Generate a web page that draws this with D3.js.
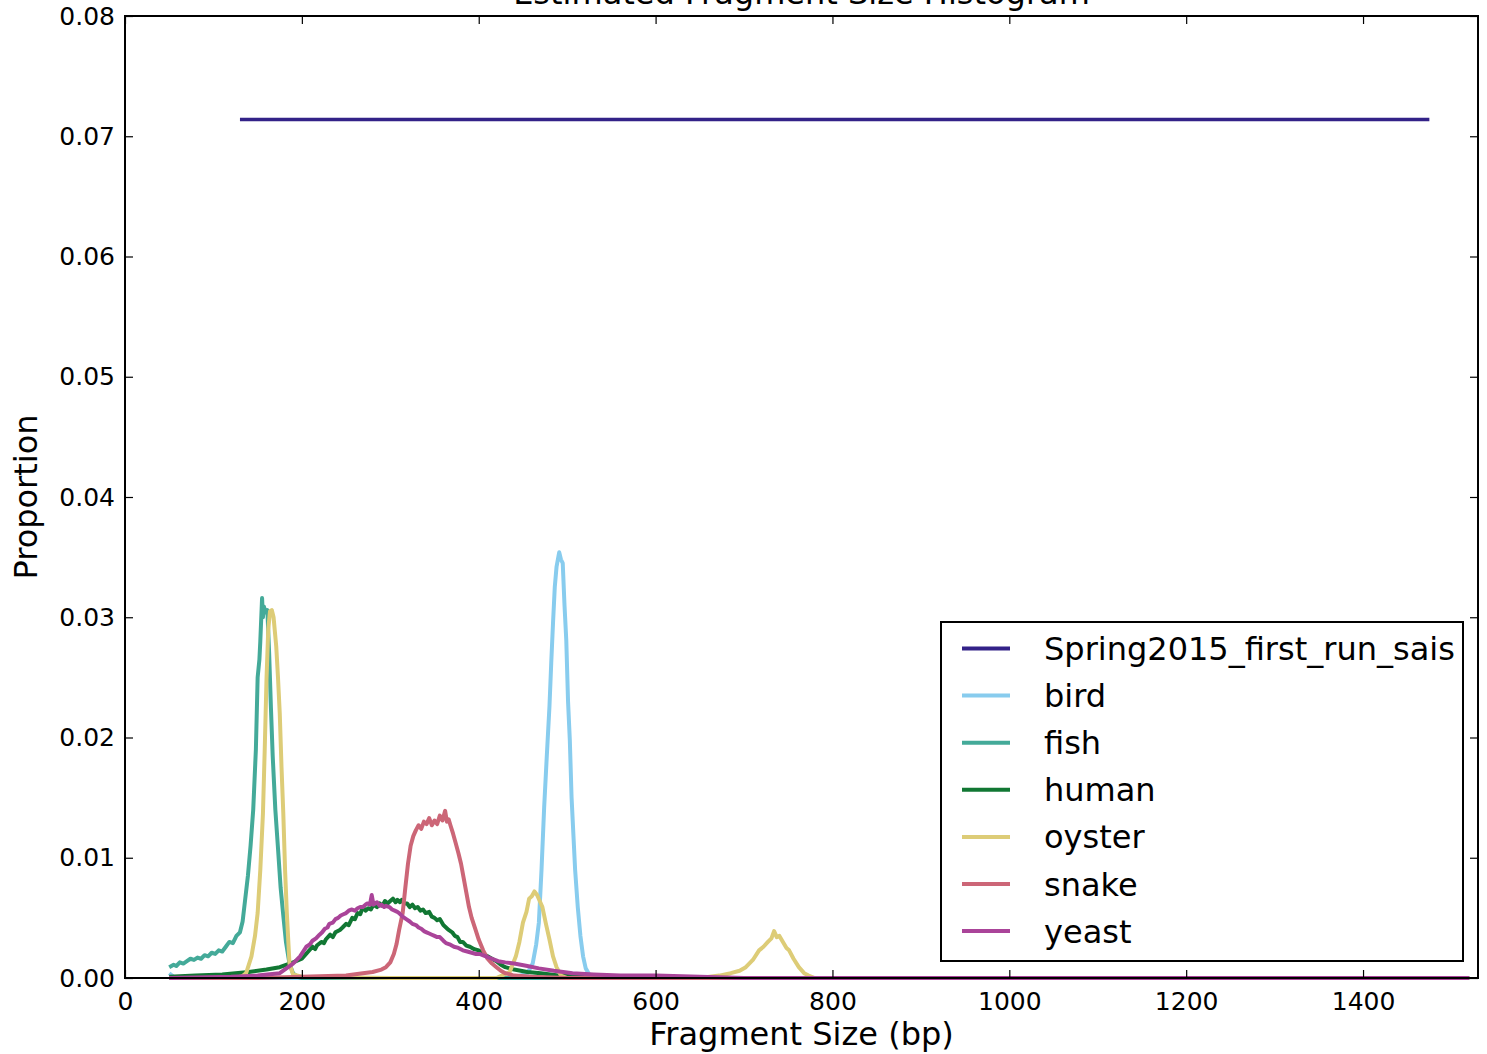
<!DOCTYPE html>
<html>
<head>
<meta charset="utf-8">
<script src="https://cdn.jsdelivr.net/npm/d3@7"></script>
<style>
  body { margin: 0; background: #fff; }
  svg { display: block; font-family: "DejaVu Sans", sans-serif; }
</style>
</head>
<body>
<svg id="chart" width="1487" height="1054"></svg>
<script>
// fragment size (bp) / proportion pairs
const spring2015 = [[130, 0.0714], [1475, 0.0714]];

const bird = [[50,0.0004],[55,0.0001],[60,0],[440,0],[455,0.0004],[461,0.0012],[465,0.0028],[468,0.0046],
  [471,0.0090],[474,0.0142],[477,0.0185],[480,0.0226],[482,0.0262],[484,0.0295],[486,0.0325],[488,0.0342],
  [490,0.0350],[491,0.0354],[493,0.0348],[495,0.0345],[497,0.0310],[499,0.0281],[501,0.0230],[503,0.0198],
  [505,0.0150],[507,0.0120],[509,0.0090],[512,0.0059],[515,0.0035],[518,0.0018],[521,0.0008],[525,0.0003],
  [530,0],[1520,0]];

const fish = [[50,0.0009],[55,0.0011],[58,0.0010],[62,0.0013],[66,0.0012],[70,0.0014],[74,0.0016],[78,0.0015],
  [82,0.0017],[86,0.0016],[90,0.0019],[94,0.0018],[98,0.0021],[102,0.0020],[106,0.0023],[110,0.0022],
  [114,0.0026],[118,0.0030],[122,0.0029],[126,0.0035],[130,0.0038],[133,0.0047],[136,0.0066],[139,0.0085],
  [142,0.0110],[145,0.0140],[148,0.0190],[150,0.0250],[152,0.0265],[153,0.0280],[155,0.0316],[156,0.0300],
  [157,0.0309],[159,0.0304],[161,0.0306],[163,0.0270],[165,0.0225],[167,0.0185],[170,0.0140],[173,0.0108],
  [176,0.0075],[179,0.0052],[182,0.0030],[186,0.0012],[190,0.0004],[195,0.0001],[200,0],[1520,0]];

const human = [[50,0.0001],[80,0.0002],[110,0.0003],[140,0.0005],[160,0.0007],[175,0.0009],[190,0.0013],
  [200,0.0016],[206,0.0021],[212,0.0026],[215,0.0024],[217,0.0027],[222,0.0030],[225,0.0029],[227,0.0032],
  [232,0.0036],[235,0.0034],[238,0.0038],[243,0.0040],[246,0.0042],[250,0.0045],[253,0.0044],[257,0.0050],
  [260,0.0049],[263,0.0054],[266,0.0053],[269,0.0059],[272,0.0056],[275,0.0058],[278,0.0057],[281,0.0061],
  [285,0.0059],[288,0.0062],[291,0.0060],[294,0.0064],[297,0.0062],[300,0.0064],[303,0.0066],[306,0.0063],
  [308,0.0065],[311,0.0063],[313,0.0065],[316,0.0062],[319,0.0062],[322,0.0059],[325,0.0061],[328,0.0058],
  [331,0.0059],[334,0.0056],[337,0.0057],[340,0.0054],[344,0.0055],[347,0.0051],[350,0.0050],[353,0.0048],
  [356,0.0049],[360,0.0044],[363,0.0042],[366,0.0040],[370,0.0038],[373,0.0035],[376,0.0034],[379,0.0030],
  [382,0.0030],[386,0.0027],[390,0.0026],[395,0.0024],[400,0.0023],[405,0.0020],[410,0.0018],[415,0.0016],
  [420,0.0014],[425,0.0011],[430,0.0009],[440,0.0007],[455,0.0005],[470,0.0004],[490,0.0002],[520,0.0001],
  [560,0],[1520,0]];

const oyster = [[50,0],[130,0],[137,0.0004],[143,0.0018],[147,0.0035],[150,0.0054],[153,0.0090],[156,0.0137],
  [158,0.0190],[160,0.0248],[162,0.0290],[164,0.0305],[166,0.0306],[168,0.0300],[171,0.0276],[173,0.0250],
  [175,0.0220],[177,0.0175],[179,0.0137],[181,0.0090],[183,0.0054],[186,0.0012],[190,0.0003],[200,0.0001],
  [300,0],[420,0],[435,0.0005],[442,0.0018],[446,0.0030],[450,0.0046],[454,0.0055],[457,0.0066],[460,0.0068],
  [463,0.0072],[466,0.0069],[469,0.0064],[472,0.0059],[476,0.0045],[480,0.0032],[484,0.0018],[488,0.0009],
  [493,0.0002],[500,0],[650,0],[672,0.0002],[685,0.0004],[695,0.0006],[702,0.0009],[710,0.0015],[717,0.0023],
  [722,0.0026],[727,0.0030],[731,0.0033],[734,0.0039],[737,0.0034],[740,0.0035],[744,0.0030],[748,0.0025],
  [751,0.0023],[756,0.0016],[762,0.0009],[768,0.0004],[773,0.0002],[780,0],[1520,0]];

const snake = [[50,0],[150,0],[200,0.0001],[250,0.0002],[269,0.0004],[280,0.0005],[290,0.0007],[295,0.0009],
  [300,0.0013],[304,0.0020],[307,0.0028],[310,0.0040],[314,0.0054],[317,0.0075],[320,0.0095],[323,0.0110],
  [326,0.0118],[329,0.0123],[332,0.0127],[335,0.0124],[338,0.0130],[341,0.0128],[344,0.0133],[347,0.0127],
  [350,0.0131],[353,0.0128],[356,0.0135],[359,0.0131],[362,0.0139],[364,0.0130],[366,0.0132],[368,0.0127],
  [371,0.0120],[374,0.0112],[377,0.0104],[380,0.0095],[383,0.0083],[386,0.0071],[389,0.0059],[392,0.0050],
  [396,0.0041],[400,0.0032],[405,0.0023],[410,0.0016],[415,0.0012],[420,0.0009],[425,0.0006],[430,0.0004],
  [440,0.0002],[460,0.0001],[500,0],[1520,0]];

const yeast = [[50,0],[120,0.0001],[150,0.0002],[175,0.0004],[190,0.0012],[198,0.0018],[205,0.0026],[209,0.0028],
  [212,0.0031],[216,0.0033],[220,0.0036],[223,0.0038],[226,0.0041],[229,0.0042],[231,0.0045],[235,0.0046],
  [238,0.0049],[241,0.0050],[244,0.0052],[247,0.0053],[250,0.0054],[253,0.0056],[256,0.0057],[260,0.0056],
  [263,0.0058],[266,0.0059],[269,0.0059],[272,0.0061],[274,0.0062],[277,0.0061],[279,0.0069],[281,0.0061],
  [283,0.0062],[285,0.0063],[288,0.0060],[290,0.0061],[293,0.0059],[295,0.0060],[299,0.0059],[302,0.0057],
  [305,0.0056],[308,0.0055],[310,0.0054],[314,0.0051],[318,0.0049],[322,0.0047],[325,0.0045],[329,0.0044],
  [332,0.0042],[335,0.0041],[338,0.0039],[341,0.0038],[344,0.0037],[347,0.0036],[350,0.0035],[353,0.0034],
  [356,0.0034],[360,0.0031],[363,0.0029],[367,0.0028],[372,0.0026],[377,0.0025],[382,0.0023],[387,0.0022],
  [392,0.0021],[397,0.0020],[401,0.0020],[408,0.0018],[415,0.0016],[422,0.0014],[430,0.0013],[440,0.0012],
  [455,0.0010],[468,0.0008],[485,0.0006],[506,0.0004],[530,0.0003],[560,0.0002],[600,0.0002],[650,0.0001],
  [700,0],[1520,0]];

const seriesNames = ['Spring2015_first_run_sais', 'bird', 'fish', 'human', 'oyster', 'snake', 'yeast'];
const seriesData = [spring2015, bird, fish, human, oyster, snake, yeast];
const seriesColors = ['#332288', '#88CCEE', '#44AA99', '#117733', '#DDCC77', '#CC6677', '#AA4499'];

const xTicks = [0, 200, 400, 600, 800, 1000, 1200, 1400];
const yTicks = [0, 0.01, 0.02, 0.03, 0.04, 0.05, 0.06, 0.07, 0.08];

const margin = {left: 125, right: 1478, top: 16, bottom: 978};
const svg = d3.select('#chart');

const x = d3.scaleLinear().domain([0, 1530]).range([margin.left, margin.right]);
const y = d3.scaleLinear().domain([0, 0.08]).range([margin.bottom, margin.top]);

// lines
const line = d3.line().x(d => x(d[0])).y(d => y(d[1]));
const plot = svg.append('g');
seriesData.forEach((s, i) => {
  plot.append('path')
    .datum(s)
    .attr('d', line)
    .attr('fill', 'none')
    .attr('stroke', seriesColors[i])
    .attr('stroke-width', i === 0 ? 3.5 : 4)
    .attr('stroke-linejoin', 'round');
});

// axes, ticks pointing inward like the classic matplotlib look
const tickLen = 8;
const bottomAxis = d3.axisBottom(x).tickValues(xTicks).tickFormat(d3.format('d'))
  .tickSizeInner(-tickLen).tickSizeOuter(0).tickPadding(14);
const leftAxis = d3.axisLeft(y).tickValues(yTicks).tickFormat(d3.format('.2f'))
  .tickSizeInner(-tickLen).tickSizeOuter(0).tickPadding(10);
const topAxis = d3.axisTop(x).tickValues(xTicks).tickSizeInner(-tickLen).tickSizeOuter(0).tickFormat('');
const rightAxis = d3.axisRight(y).tickValues(yTicks).tickSizeInner(-tickLen).tickSizeOuter(0).tickFormat('');

function styleAxis(g) {
  g.select('.domain').remove();
  g.selectAll('.tick line').attr('stroke', '#000').attr('stroke-width', 1.2);
  g.selectAll('.tick text').attr('fill', '#000').style('font-size', '25px').style('font-family', '"DejaVu Sans", sans-serif');
}

svg.append('g').attr('transform', `translate(0,${margin.bottom})`).call(bottomAxis).call(styleAxis);
svg.append('g').attr('transform', `translate(${margin.left},0)`).call(leftAxis).call(styleAxis);
svg.append('g').attr('transform', `translate(0,${margin.top})`).call(topAxis).call(styleAxis);
svg.append('g').attr('transform', `translate(${margin.right},0)`).call(rightAxis).call(styleAxis);

// frame
svg.append('rect')
  .attr('x', margin.left).attr('y', margin.top)
  .attr('width', margin.right - margin.left).attr('height', margin.bottom - margin.top)
  .attr('fill', 'none').attr('stroke', '#000').attr('stroke-width', 2);

// titles (the title sits partly above the page, as in the original)
svg.append('text')
  .attr('x', (margin.left + margin.right) / 2).attr('y', 4)
  .attr('text-anchor', 'middle').style('font-size', '32px')
  .text('Estimated Fragment Size Histogram');

svg.append('text')
  .attr('x', (margin.left + margin.right) / 2).attr('y', 1045)
  .attr('text-anchor', 'middle').style('font-size', '32px')
  .text('Fragment Size (bp)');

svg.append('text')
  .attr('transform', `translate(37,${(margin.top + margin.bottom) / 2}) rotate(-90)`)
  .attr('text-anchor', 'middle').style('font-size', '32px')
  .text('Proportion');

// legend
const legend = svg.append('g');
legend.append('rect')
  .attr('x', 941).attr('y', 622).attr('width', 522).attr('height', 339)
  .attr('fill', '#fff').attr('stroke', '#000').attr('stroke-width', 2);

seriesNames.forEach((name, i) => {
  const ly = 648.5 + i * 47.1;
  legend.append('line')
    .attr('x1', 962).attr('x2', 1010).attr('y1', ly).attr('y2', ly)
    .attr('stroke', seriesColors[i]).attr('stroke-width', 4);
  legend.append('text')
    .attr('x', 1044).attr('y', ly + 11.5)
    .style('font-size', '32px')
    .text(name);
});
</script>
</body>
</html>
